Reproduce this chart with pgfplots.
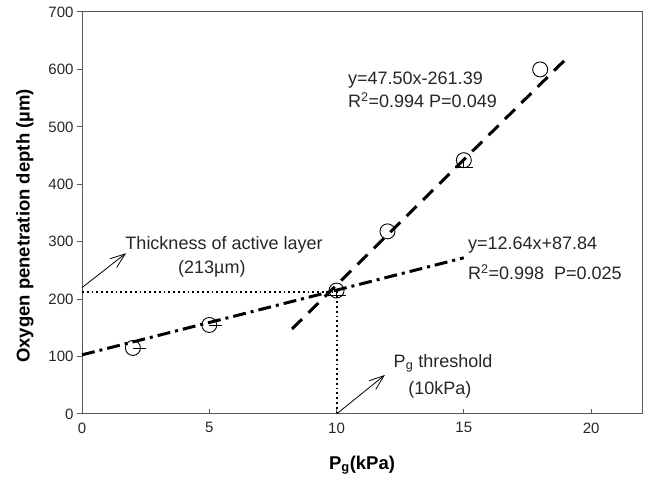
\documentclass[border=0pt]{standalone}
\usepackage{pgfplots}
\pgfplotsset{compat=1.18}
\usepackage{fontspec}
\setmainfont{Liberation Sans}
\usetikzlibrary{arrows.meta}
\tikzset{ann/.style={font=\fontsize{18}{20}\selectfont, text=black!85, inner sep=1pt}}
\begin{document}
\begin{tikzpicture}
\useasboundingbox (0,0) rectangle (656pt,484pt);
\begin{axis}[
  at={(82pt,70pt)}, anchor=south west,
  scale only axis, width=560pt, height=402pt,
  xmin=0, xmax=22, ymin=0, ymax=700,
  xtick={0,5,10,15,20}, ytick={0,100,...,700},
  axis line style={black!65, line width=1pt},
  tick style={black!65, line width=1pt},
  xtick align=inside, ytick align=outside, tick pos=left,
  major tick length=5pt,
  tick label style={font=\fontsize{15}{17}\selectfont, text=black!85},
  xticklabel style={yshift=-5pt},
  /pgf/number format/assume math mode=true,
  xlabel={\textbf{P\textsubscript{g}(kPa)}},
  ylabel={\textbf{Oxygen penetration depth (µm)}},
  xlabel style={font=\fontsize{18.5}{20}\selectfont, at={(axis description cs:0.5,0)}, anchor=center, yshift=-51pt},
  ylabel style={font=\fontsize{18.5}{20}\selectfont, at={(axis description cs:0,0.5)}, anchor=center, yshift=57pt, xshift=-13pt},
  clip=false,
]
% dotted guide lines
\addplot[black, line width=2pt, dash pattern=on 1.8pt off 3pt] coordinates {(0,213) (10,213) (10,0)};
% data points with error bars
\addplot[only marks, mark=o, mark size=7.5pt, black, line width=0.9pt,
  error bars/.cd, y dir=minus, y explicit, error bar style={line width=0.9pt}, error mark options={rotate=90, mark size=9pt, line width=0.9pt}]
  coordinates {(10,215) -= (0,8) (12,318) (15,442) -= (0,13) (18,600)};
\addplot[only marks, mark=o, mark size=7.5pt, black, line width=0.9pt,
  error bars/.cd, x dir=plus, x explicit, error bar style={line width=0.9pt}, error mark options={mark size=3pt, line width=0.9pt}]
  coordinates {(2,115) += (0.4,0) (5,155) += (0.4,0)};
% fit lines
\addplot[black, line width=3pt, dash pattern=on 14pt off 9pt] coordinates {(8.25,148) (19.1,622)};
\addplot[black, line width=3pt, dash pattern=on 13pt off 5pt on 3pt off 5pt] coordinates {(0,103) (15,272)};
% arrows
\addplot[black, line width=0.8pt, -{Straight Barb[length=15pt,width=11pt]}] coordinates {(0,220) (1.73,280)};
\addplot[black, line width=0.8pt, -{Straight Barb[length=15pt,width=11pt]}] coordinates {(10,0) (11.9,68)};
% texts
\node[ann] at (axis cs:5.58,294) {Thickness of active layer};
\node[ann] at (axis cs:5.1,253) {(213µm)};
\node[ann, anchor=west] at (axis cs:10.41,582) {y=47.50x-261.39};
\node[ann, anchor=west] at (axis cs:10.41,547) {R\textsuperscript{2}=0.994 P=0.049};
\node[ann, anchor=west] at (axis cs:15.12,294) {y=12.64x+87.84};
\node[ann, anchor=west] at (axis cs:15.12,247) {R\textsuperscript{2}=0.998\ \ P=0.025};
\node[ann, anchor=west] at (axis cs:12.2,88) {P\textsubscript{g} threshold};
\node[ann] at (axis cs:14.06,42) {(10kPa)};
\end{axis}
\end{tikzpicture}
\end{document}
